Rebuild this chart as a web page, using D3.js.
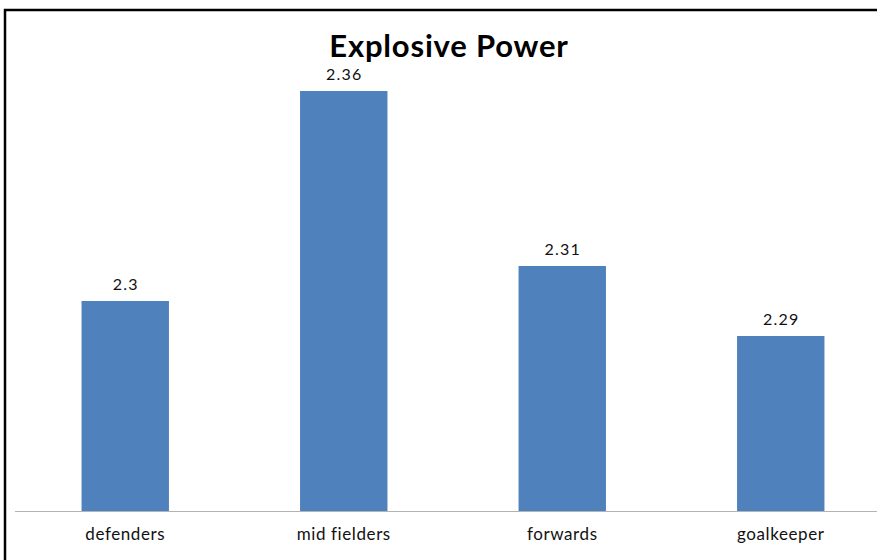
<!DOCTYPE html>
<html>
<head>
<meta charset="utf-8">
<script src="https://cdn.jsdelivr.net/npm/d3@7"></script>
<style>
  html, body { margin: 0; padding: 0; background: #fff; }
  svg { display: block; }
</style>
</head>
<body>
<svg id="chart" width="877" height="560"></svg>
<script>
// Explosive power by playing position
const categories = ["defenders", "mid fielders", "forwards", "goalkeeper"];
const values = [2.3, 2.36, 2.31, 2.29];
const valueLabels = ["2.3", "2.36", "2.31", "2.29"];
const title = "Explosive Power";

const W = 877, H = 560;
const FONT = "Lato, 'Open Sans', sans-serif";
const svg = d3.select("#chart");

// outer frame
svg.append("rect")
  .attr("x", 5).attr("y", 10)
  .attr("width", W + 10).attr("height", H + 10)
  .attr("fill", "#fff")
  .attr("stroke", "#000").attr("stroke-width", 2.5);

const plot = { left: 16, right: 890, top: 21, bottom: 511 };

const x = d3.scaleBand()
  .domain(categories)
  .range([plot.left, plot.right])
  .paddingInner(0.6)
  .paddingOuter(0.3);

const y = d3.scaleLinear()
  .domain([2.24, 2.38])
  .range([plot.bottom, plot.top]);

// bars
svg.append("g").selectAll("rect")
  .data(values)
  .join("rect")
  .attr("x", (d, i) => x(categories[i]))
  .attr("y", d => y(d))
  .attr("width", x.bandwidth())
  .attr("height", d => plot.bottom - y(d))
  .attr("fill", "#4F81BD");

// value labels above bars
svg.append("g").selectAll("text")
  .data(values)
  .join("text")
  .attr("x", (d, i) => x(categories[i]) + x.bandwidth() / 2 + 0.5)
  .attr("y", d => y(d) - 11)
  .attr("text-anchor", "middle")
  .attr("font-family", FONT)
  .attr("font-size", 16)
  .attr("letter-spacing", 1.2)
  .attr("fill", "#111")
  .text((d, i) => valueLabels[i]);

// category axis
const xAxis = svg.append("g")
  .attr("transform", `translate(0,${plot.bottom})`)
  .call(d3.axisBottom(x).tickSize(0).tickPadding(17));
xAxis.select(".domain")
  .attr("d", `M${plot.left - 1},0.5H${W}`)
  .attr("stroke", "#b3b3b3").attr("stroke-width", 1.2);
xAxis.selectAll("text")
  .attr("font-family", FONT)
  .attr("font-size", 17)
  .attr("letter-spacing", 0.6)
  .attr("fill", "#111");

// title
svg.append("text")
  .attr("x", 449).attr("y", 57)
  .attr("text-anchor", "middle")
  .attr("font-family", FONT)
  .attr("font-weight", "bold")
  .attr("font-size", 31)
  .attr("letter-spacing", 0.8)
  .attr("fill", "#000")
  .text(title);
</script>
</body>
</html>
